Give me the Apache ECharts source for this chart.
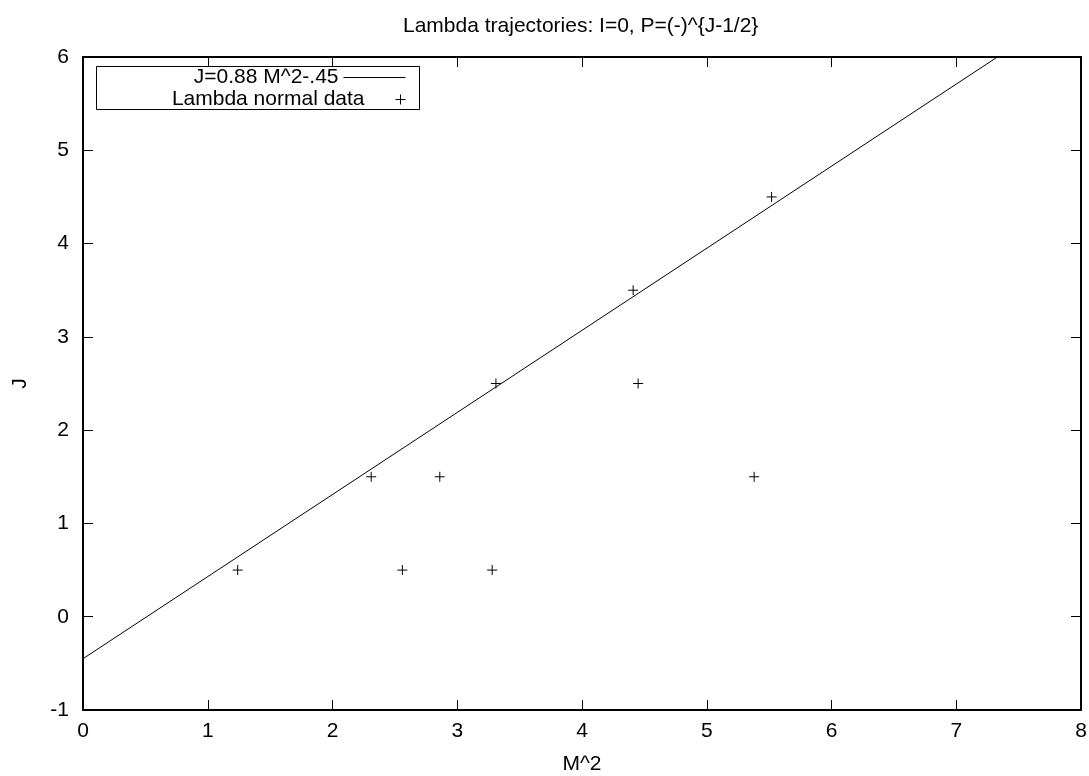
<!DOCTYPE html>
<html>
<head>
<meta charset="utf-8">
<script src="https://cdn.jsdelivr.net/npm/echarts@6/dist/echarts.min.js"></script>
<style>
html,body{margin:0;padding:0;background:#fff;}
#chart{width:1089px;height:776px;}
</style>
</head>
<body>
<div id="chart"></div>
<script>
// ---- data ----
const titleText = 'Lambda trajectories: I=0, P=(-)^{J-1/2}';
const xName = 'M^2';
const yName = 'J';
const fitName = 'J=0.88 M^2-.45';
const dataName = 'Lambda normal data';
// fitted trajectory line endpoints (enters at x=0, leaves at top of plot)
const fitX = [0, 7.33];
const fitY = [-0.45, 6];
// Lambda states
const mSquared = [1.24, 2.31, 2.56, 2.86, 3.28, 3.31, 4.41, 4.45, 5.38, 5.52];
const jValues  = [0.5, 1.5, 0.5, 1.5, 0.5, 2.5, 3.5, 2.5, 1.5, 4.5];
const xTicks = [0, 8, 1];   // min, max, interval
const yTicks = [-1, 6, 1];

const FONT = 'Liberation Sans, Arial, Helvetica, sans-serif';
const FS = 21;
const fitData = fitX.map((x, i) => [x, fitY[i]]);
const ptData = mSquared.map((x, i) => [x, jValues[i]]);
const plusPath = 'path://M0,5L10,5M5,0L5,10';

const chart = echarts.init(document.getElementById('chart'), null, {renderer: 'canvas'});

const axisCommon = {
  type: 'value',
  axisLine: {show: true, onZero: false, lineStyle: {color: '#000', width: 2}},
  axisTick: {show: true, inside: true, length: 10, lineStyle: {color: '#000', width: 1}},
  splitLine: {show: false},
};

const option = {
  animation: false,
  backgroundColor: '#fff',
  title: {
    text: titleText,
    left: 403, top: 16, padding: 0,
    textStyle: {fontFamily: FONT, fontSize: FS, fontWeight: 'normal', color: '#000'}
  },
  grid: {left: 83, right: 8, top: 57, bottom: 66, outerBoundsMode: 'none', containLabel: false},
  legend: [
    {
      data: [{name: fitName, icon: 'line',
              itemStyle: {color: '#000', borderColor: '#000', borderWidth: 1}}],
      orient: 'vertical', align: 'right',
      right: 683, top: 67, padding: 0, itemWidth: 62, itemHeight: 14,
      textStyle: {fontFamily: FONT, fontSize: FS, color: '#000'},
      selectedMode: false
    },
    {
      data: [{name: dataName, icon: plusPath,
              itemStyle: {color: 'rgba(0,0,0,0)', borderColor: '#000', borderWidth: 1}}],
      orient: 'vertical', align: 'right',
      right: 683, top: 89, padding: 0, itemWidth: 62, itemHeight: 10,
      symbolKeepAspect: true,
      textStyle: {fontFamily: FONT, fontSize: FS, color: '#000'},
      selectedMode: false
    }
  ],
  graphic: [{
    type: 'rect', z: 0,
    shape: {x: 96.5, y: 66.5, width: 323, height: 43},
    style: {fill: 'none', stroke: '#000', lineWidth: 1}
  }],
  xAxis: [
    Object.assign({}, axisCommon, {
      position: 'bottom', min: xTicks[0], max: xTicks[1], interval: xTicks[2],
      name: xName, nameLocation: 'middle', nameGap: 44,
      nameTextStyle: {fontFamily: FONT, fontSize: FS, color: '#000'},
      axisLabel: {fontFamily: FONT, fontSize: FS, color: '#000', margin: 11}
    }),
    Object.assign({}, axisCommon, {
      position: 'top', min: xTicks[0], max: xTicks[1], interval: xTicks[2],
      axisLabel: {show: false}
    })
  ],
  yAxis: [
    Object.assign({}, axisCommon, {
      position: 'left', min: yTicks[0], max: yTicks[1], interval: yTicks[2],
      name: yName, nameLocation: 'middle', nameGap: 52, nameRotate: 90,
      nameTextStyle: {fontFamily: FONT, fontSize: FS, color: '#000'},
      axisLabel: {fontFamily: FONT, fontSize: FS, color: '#000', margin: 14}
    }),
    Object.assign({}, axisCommon, {
      position: 'right', min: yTicks[0], max: yTicks[1], interval: yTicks[2],
      axisLabel: {show: false}
    })
  ],
  series: [
    {
      name: fitName, type: 'line', xAxisIndex: 0, yAxisIndex: 0,
      data: fitData, symbol: 'none', clip: true,
      lineStyle: {color: '#000', width: 1},
      itemStyle: {color: '#000'}
    },
    {
      name: dataName, type: 'scatter', xAxisIndex: 0, yAxisIndex: 0,
      data: ptData, symbol: plusPath, symbolSize: 10,
      itemStyle: {color: 'rgba(0,0,0,0)', borderColor: '#000', borderWidth: 1, opacity: 1}
    }
  ]
};
chart.setOption(option);
</script>
</body>
</html>
